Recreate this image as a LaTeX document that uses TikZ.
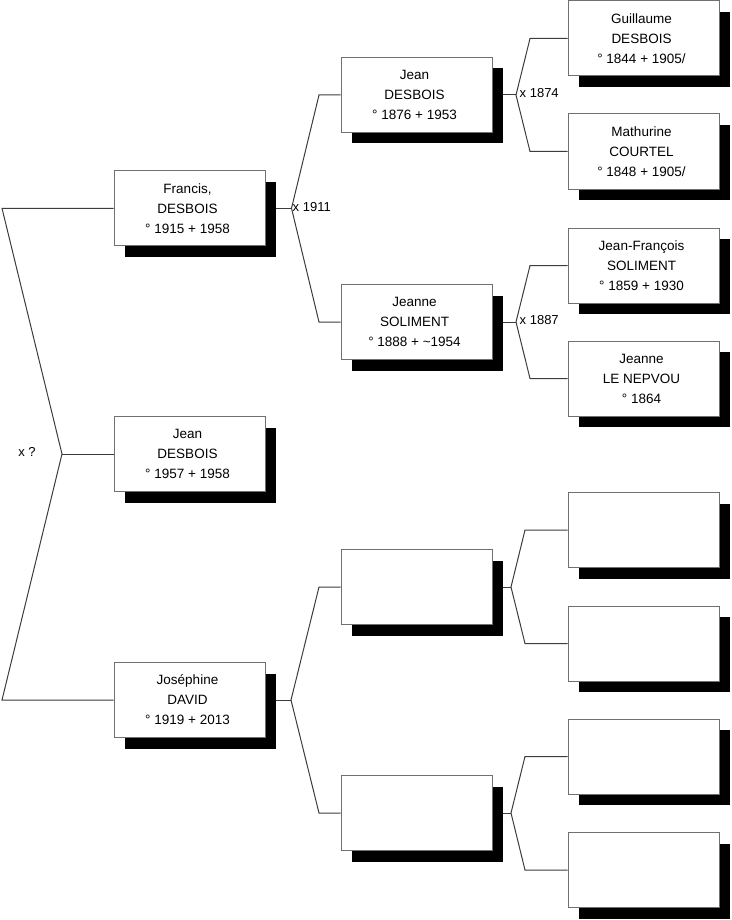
\documentclass[tikz,border=0pt]{standalone}
\usepackage{fontspec}
\setmainfont{Liberation Sans}
\usetikzlibrary{shadows,backgrounds}
\definecolor{boxgray}{HTML}{707070}
\definecolor{linkgray}{HTML}{3C3C3C}
\begin{document}
\begin{tikzpicture}[x=1pt,y=-1pt,
  person/.style={draw=boxgray, line width=1pt, fill=white, minimum width=151pt,
    minimum height=75pt, inner sep=0pt,
    general shadow={fill=black, shadow xshift=11pt, shadow yshift=-11pt}},
  ptext/.style={font=\fontsize{13.5}{20}\selectfont, align=center, inner sep=0pt, text=black},
  link/.style={draw=linkgray, line width=1pt},
  mlabel/.style={font=\fontsize{13}{15}\selectfont, inner sep=0pt, text=black}]
\useasboundingbox (0,0) rectangle (731,920);

% generation 1
\node[person] (g1a) at (189.5,208.3) {};
\node[person] (g1b) at (189.5,454) {};
\node[person] (g1c) at (189.5,700) {};
% generation 2
\node[person] (g2a) at (416.5,95) {};
\node[person] (g2b) at (416.5,322) {};
\node[person] (g2c) at (416.5,587) {};
\node[person] (g2d) at (416.5,813) {};
% generation 3
\node[person] (g3a) at (643.5,38.5) {};
\node[person] (g3b) at (643.5,151.5) {};
\node[person] (g3c) at (643.5,265.5) {};
\node[person] (g3d) at (643.5,378.5) {};
\node[person] (g3e) at (643.5,530) {};
\node[person] (g3f) at (643.5,643.5) {};
\node[person] (g3g) at (643.5,756.5) {};
\node[person] (g3h) at (643.5,870) {};

% texts
\node[ptext] (t1a) at ([xshift=-2pt]g1a.center) {Francis,\\DESBOIS\\° 1915 + 1958};
\node[ptext] (t1b) at ([xshift=-2pt]g1b.center) {Jean\\DESBOIS\\° 1957 + 1958};
\node[ptext] (t1c) at ([xshift=-2pt]g1c.center) {Joséphine\\DAVID\\° 1919 + 2013};
\node[ptext] (t2a) at ([xshift=-2pt]g2a.center) {Jean\\DESBOIS\\° 1876 + 1953};
\node[ptext] (t2b) at ([xshift=-2pt]g2b.center) {Jeanne\\SOLIMENT\\° 1888 + \textasciitilde1954};
\node[ptext] (t3a) at ([xshift=-2pt]g3a.center) {Guillaume\\DESBOIS\\° 1844 + 1905/};
\node[ptext] (t3b) at ([xshift=-2pt]g3b.center) {Mathurine\\COURTEL\\° 1848 + 1905/};
\node[ptext] (t3c) at ([xshift=-2pt]g3c.center) {Jean-François\\SOLIMENT\\° 1859 + 1930};
\node[ptext] (t3d) at ([xshift=-2pt]g3d.center) {Jeanne\\LE NEPVOU\\° 1864};

% fork points
\coordinate (r0) at (2,208.3);
\coordinate (r1) at (62,454);
\coordinate (r2) at (2,700);

\coordinate (fa) at (291.5,208.3);
\coordinate (fa1) at (319,95);
\coordinate (fa2) at (319,322);

\coordinate (fc) at (291,700);
\coordinate (fc1) at (319,587);
\coordinate (fc2) at (319,813);

\coordinate (ja) at (516,95);
\coordinate (ja1) at (530,38.5);
\coordinate (ja2) at (530,151.5);

\coordinate (jb) at (516,322);
\coordinate (jb1) at (530,265.5);
\coordinate (jb2) at (530,378.5);

\coordinate (jc) at (511,587);
\coordinate (jc1) at (525,530);
\coordinate (jc2) at (525,643.5);

\coordinate (jd) at (511,813);
\coordinate (jd1) at (525,756.5);
\coordinate (jd2) at (525,870);

\begin{scope}[on background layer]
  \draw[link] (g1a.west) -- (r0) -- (r1) -- (r2) -- (g1c.west);
  \draw[link] (r1) -- (g1b.west);

  \draw[link] (g1a.east) -- (fa);
  \draw[link] (g2a.west) -- (fa1) -- (fa) -- (fa2) -- (g2b.west);

  \draw[link] (g1c.east) -- (fc);
  \draw[link] (g2c.west) -- (fc1) -- (fc) -- (fc2) -- (g2d.west);

  \draw[link] (g2a.east) -- (ja);
  \draw[link] (g3a.west) -- (ja1) -- (ja) -- (ja2) -- (g3b.west);

  \draw[link] (g2b.east) -- (jb);
  \draw[link] (g3c.west) -- (jb1) -- (jb) -- (jb2) -- (g3d.west);

  \draw[link] (g2c.east) -- (jc);
  \draw[link] (g3e.west) -- (jc1) -- (jc) -- (jc2) -- (g3f.west);

  \draw[link] (g2d.east) -- (jd);
  \draw[link] (g3g.west) -- (jd1) -- (jd) -- (jd2) -- (g3h.west);
\end{scope}

% marriage labels
\node[mlabel] (m0) at (27,452) {x ?};
\node[mlabel, anchor=west] (m1) at (292.5,206.8) {x 1911};
\node[mlabel, anchor=west] (m2) at (519.5,93) {x 1874};
\node[mlabel, anchor=west] (m3) at (519.5,320) {x 1887};
\end{tikzpicture}
\end{document}
